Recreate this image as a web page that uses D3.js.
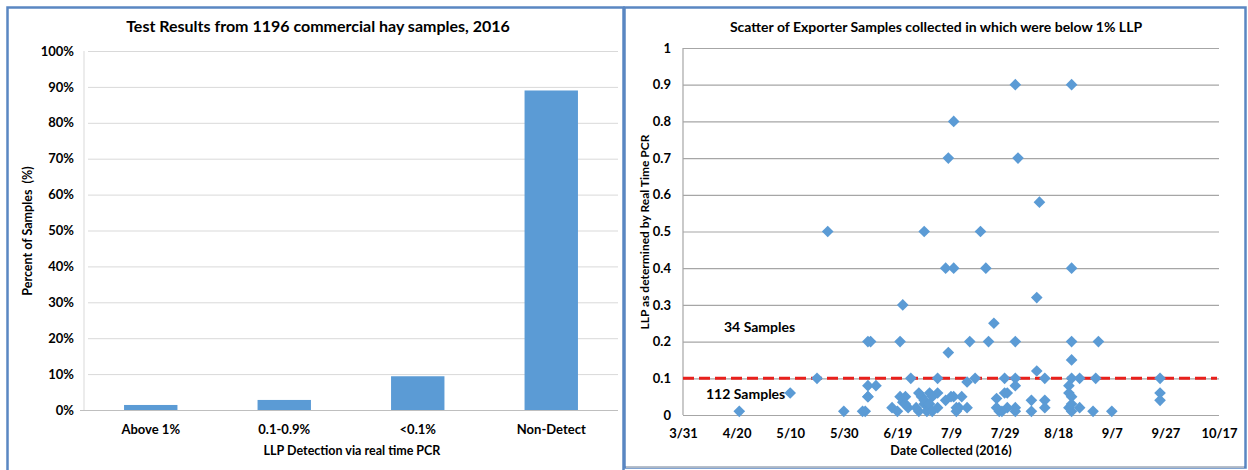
<!DOCTYPE html>
<html lang="en">
<head>
    <meta charset="UTF-8">
    <title>LLP Test Results 2016</title>
    <script src="https://cdn.jsdelivr.net/npm/d3@7/dist/d3.min.js"></script>
    <style>
        body { margin: 0; background: #fff; }
        text { font-family: Lato, "Open Sans", sans-serif; fill: #000; white-space: pre; }
        .title { font-size: 16px; font-weight: bold; }
        .tick-label { font-size: 13px; font-weight: bold; }
        .axis-title { font-size: 12.5px; font-weight: bold; }
        .note { font-size: 14px; font-weight: bold; }
    </style>
</head>
<body>
<svg id="chart" width="1248" height="470"></svg>
<script>
    // ---- left chart data ----
    const categories = ["Above 1%", "0.1-0.9%", "<0.1%", "Non-Detect"];
    const percents = [1.4, 2.8, 9.4, 89.0];
    const percentTicks = [0, 10, 20, 30, 40, 50, 60, 70, 80, 90, 100];

    // ---- right chart data (date collected, LLP value) ----
    const sampleDates = [
        "2016-08-02", "2016-08-23", "2016-07-10", "2016-07-08", "2016-08-03", "2016-08-11",
        "2016-05-24", "2016-06-29", "2016-07-20", "2016-07-07", "2016-07-10", "2016-07-22",
        "2016-08-23", "2016-08-10", "2016-06-21", "2016-07-25",
        "2016-06-08", "2016-06-09", "2016-06-20", "2016-07-16", "2016-07-23", "2016-08-02",
        "2016-08-23", "2016-09-02", "2016-07-08", "2016-08-23", "2016-08-10",
        "2016-05-20", "2016-06-24", "2016-07-04", "2016-07-18", "2016-07-29", "2016-08-02",
        "2016-08-13", "2016-08-23", "2016-08-26", "2016-09-01", "2016-09-25",
        "2016-07-15", "2016-06-08", "2016-06-11", "2016-06-08", "2016-06-07", "2016-06-17",
        "2016-06-20", "2016-06-21", "2016-06-19", "2016-06-23", "2016-06-27", "2016-06-28",
        "2016-06-29", "2016-07-01", "2016-07-04", "2016-07-02", "2016-06-27", "2016-06-30",
        "2016-07-04", "2016-07-07", "2016-07-10", "2016-07-13", "2016-07-12", "2016-07-15",
        "2016-07-11", "2016-07-26", "2016-07-30", "2016-07-27", "2016-07-30",
        "2016-08-02", "2016-07-29", "2016-08-08", "2016-08-13", "2016-08-13", "2016-08-08",
        "2016-08-02", "2016-08-02", "2016-07-28", "2016-08-22", "2016-08-22", "2016-08-23",
        "2016-08-22", "2016-08-23", "2016-08-26", "2016-08-31", "2016-09-07", "2016-09-25",
        "2016-09-25", "2016-04-21", "2016-05-10", "2016-05-30", "2016-06-06", "2016-06-08",
        "2016-06-22", "2016-06-22", "2016-06-29", "2016-07-01", "2016-07-02", "2016-06-26",
        "2016-07-11", "2016-07-09", "2016-07-26", "2016-08-23"
    ];
    const llpValues = [
        0.9, 0.9, 0.8, 0.7, 0.7, 0.58,
        0.5, 0.5, 0.5, 0.4, 0.4, 0.4,
        0.4, 0.32, 0.3, 0.25,
        0.2, 0.2, 0.2, 0.2, 0.2, 0.2,
        0.2, 0.2, 0.17, 0.15, 0.12,
        0.1, 0.1, 0.1, 0.1, 0.1, 0.1,
        0.1, 0.1, 0.1, 0.1, 0.1,
        0.09, 0.08, 0.08, 0.05, 0.01, 0.02,
        0.05, 0.035, 0.01, 0.02, 0.06, 0.05,
        0.03, 0.06, 0.06, 0.05, 0.01, 0.01,
        0.02, 0.04, 0.05, 0.05, 0.02, 0.02,
        0.01, 0.045, 0.06, 0.01, 0.02,
        0.08, 0.06, 0.04, 0.04, 0.02, 0.01,
        0.02, 0.01, 0.01, 0.08, 0.06, 0.05,
        0.02, 0.01, 0.02, 0.01, 0.01, 0.06,
        0.04, 0.01, 0.06, 0.01, 0.01, 0.05,
        0.03, 0.05, 0.04, 0.03, 0.01, 0.02,
        0.02, 0.05, 0.02, 0.03
    ];
    const dateTicks = ["2016-03-31", "2016-04-20", "2016-05-10", "2016-05-30", "2016-06-19", "2016-07-09",
        "2016-07-29", "2016-08-18", "2016-09-07", "2016-09-27", "2016-10-17"];
    const llpTicks = [0, 0.1, 0.2, 0.3, 0.4, 0.5, 0.6, 0.7, 0.8, 0.9, 1];
    const threshold = 0.1;

    const svg = d3.select("#chart");
    const parse = d3.timeParse("%Y-%m-%d");

    // panel frames
    svg.append("rect").attr("x", 7.5).attr("y", 7.5).attr("width", 616).attr("height", 480)
        .attr("fill", "none").attr("stroke", "#5a87c2").attr("stroke-width", 2.5);
    svg.append("rect").attr("x", 624.5).attr("y", 7.5).attr("width", 621).attr("height", 460)
        .attr("fill", "none").attr("stroke", "#5a87c2").attr("stroke-width", 2.5);
    svg.append("line").attr("x1", 626).attr("x2", 1244).attr("y1", 467).attr("y2", 467)
        .attr("stroke", "#c8c8c8").attr("stroke-width", 1.5);

    // ================= left: bar chart =================
    const x1 = d3.scaleBand().domain(categories).range([84, 618]).paddingInner(0.6).paddingOuter(0.3);
    const y1 = d3.scaleLinear().domain([0, 100]).range([410, 51]);

    const g1 = svg.append("g");
    g1.append("g")
        .attr("transform", "translate(84,0)")
        .call(d3.axisLeft(y1).tickValues(percentTicks).tickSize(-534).tickPadding(10).tickFormat(d => d + "%"))
        .call(g => g.select(".domain").remove())
        .call(g => g.selectAll(".tick line").attr("stroke", "#d9d9d9").attr("x1", 4))
        .call(g => g.selectAll(".tick text").attr("class", "tick-label").attr("font-family", null).attr("font-size", null));
    g1.append("line").attr("x1", 84).attr("x2", 84).attr("y1", 51).attr("y2", 410).attr("stroke", "#d9d9d9");
    g1.append("line").attr("x1", 80).attr("x2", 618).attr("y1", 410.5).attr("y2", 410.5).attr("stroke", "#bfbfbf");

    g1.selectAll(".bar")
        .data(categories)
        .enter()
        .append("rect")
        .attr("class", "bar")
        .attr("x", d => x1(d))
        .attr("y", (d, i) => y1(percents[i]))
        .attr("width", x1.bandwidth())
        .attr("height", (d, i) => 410 - y1(percents[i]))
        .attr("fill", "#5b9bd5");

    g1.append("g")
        .attr("transform", "translate(0,410)")
        .call(d3.axisBottom(x1).tickSize(0).tickPadding(15))
        .call(g => g.select(".domain").remove())
        .call(g => g.selectAll(".tick text").attr("class", "tick-label").attr("font-family", null).attr("font-size", null));

    g1.append("text").attr("class", "title").attr("x", 318).attr("y", 32).attr("text-anchor", "middle")
        .text("Test Results from 1196 commercial hay samples, 2016");
    g1.append("text").attr("class", "axis-title").attr("x", 352).attr("y", 455).attr("text-anchor", "middle")
        .text("LLP Detection via real time PCR");
    g1.append("text").attr("class", "axis-title").attr("transform", "translate(32,231) rotate(-90)")
        .attr("text-anchor", "middle").text("Percent of Samples  (%)");

    // ================= right: scatter =================
    const x2 = d3.scaleTime().domain([parse(dateTicks[0]), parse(dateTicks[dateTicks.length - 1])]).range([683, 1219]);
    const y2 = d3.scaleLinear().domain([0, 1]).range([415, 48]);
    const fmt = d3.timeFormat("%-m/%-d");

    const g2 = svg.append("g");
    g2.append("g")
        .attr("transform", "translate(683,0)")
        .call(d3.axisLeft(y2).tickValues(llpTicks).tickSize(-536).tickPadding(12).tickFormat(d3.format("")))
        .call(g => g.select(".domain").remove())
        .call(g => g.selectAll(".tick line").attr("stroke", "#a6a6a6").attr("stroke-width", 1.2))
        .call(g => g.selectAll(".tick text").attr("class", "tick-label").attr("font-family", null).attr("font-size", null));
    g2.append("line").attr("x1", 683).attr("x2", 683).attr("y1", 48).attr("y2", 415).attr("stroke", "#a6a6a6").attr("stroke-width", 1.2);

    g2.append("g")
        .attr("transform", "translate(0,415)")
        .call(d3.axisBottom(x2).tickValues(dateTicks.map(parse)).tickSize(0).tickPadding(14).tickFormat(fmt))
        .call(g => g.select(".domain").remove())
        .call(g => g.selectAll(".tick text").attr("class", "tick-label").attr("font-family", null).attr("font-size", null));

    // threshold line
    g2.append("line")
        .attr("x1", 683).attr("x2", 1217)
        .attr("y1", y2(threshold)).attr("y2", y2(threshold))
        .attr("stroke", "#e8201c").attr("stroke-width", 3).attr("stroke-dasharray", "11,5");

    const diamond = d3.symbol().type(d3.symbolSquare).size(68);
    g2.selectAll(".pt")
        .data(sampleDates)
        .enter()
        .append("path")
        .attr("class", "pt")
        .attr("d", diamond)
        .attr("transform", (d, i) => `translate(${x2(parse(d))},${y2(llpValues[i])}) rotate(45)`)
        .attr("fill", "#5b9bd5");

    g2.append("text").attr("class", "note").attr("x", 724).attr("y", 332).text("34 Samples");
    g2.append("text").attr("class", "note").attr("x", 706).attr("y", 399).text("112 Samples");

    g2.append("text").attr("class", "title").attr("x", 936).attr("y", 32).attr("text-anchor", "middle")
        .style("font-size", "14px")
        .text("Scatter of Exporter Samples collected in which were below 1% LLP");
    g2.append("text").attr("class", "axis-title").attr("x", 951).attr("y", 455).attr("text-anchor", "middle")
        .text("Date Collected (2016)");
    g2.append("text").attr("class", "axis-title").style("font-size", "12px").attr("transform", "translate(649,232) rotate(-90)")
        .attr("text-anchor", "middle").text("LLP as determined by Real Time PCR");
</script>
</body>
</html>
